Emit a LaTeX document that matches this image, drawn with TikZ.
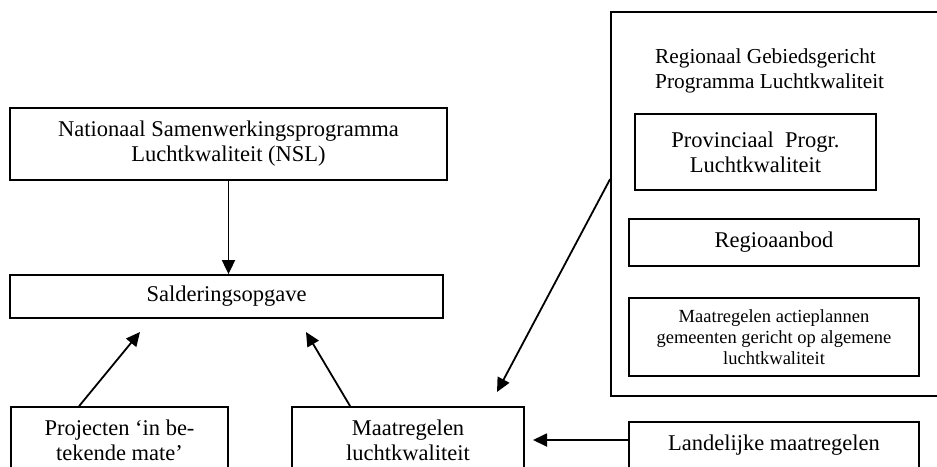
\documentclass[tikz,border=0pt]{standalone}
\usepackage{fontspec}
\setmainfont{Liberation Serif}
\usetikzlibrary{arrows.meta}
\begin{document}
\begin{tikzpicture}[x=1pt,y=-1pt,
  box/.style={draw,line width=1.8pt,inner sep=0pt,align=center,font=\fontsize{22.5pt}{25pt}\selectfont},
  smallbox/.style={box,font=\fontsize{18.5pt}{21pt}\selectfont},
  conn/.style={line width=1.8pt,-{Triangle[length=14pt,width=13pt]}}]
\useasboundingbox (0,0) rectangle (937,466);
\clip (0,0) rectangle (937,466);
\fill[white] (0,0) rectangle (937,466);
% left column
\node[box,minimum width=437pt,minimum height=72pt] (nsl) at (228.5,144) {Nationaal Samenwerkingsprogramma\\Luchtkwaliteit (NSL)};
\node[box,minimum width=433pt,minimum height=43pt] (sald) at (226.5,296.5) {Salderingsopgave};
\node[box,minimum width=217pt,minimum height=66pt] (proj) at (119.5,440) {Projecten ‘in be-\\tekende mate’};
\node[box,minimum width=232pt,minimum height=66pt] (maat) at (408,440) {Maatregelen\\luchtkwaliteit};
% right column
\node[box,minimum width=339pt,minimum height=384pt] (big) at (780.5,204) {};
\node[anchor=west,inner sep=0pt,align=left,font=\fontsize{21.3pt}{25pt}\selectfont] (rgp) at (655,70.5) {Regionaal Gebiedsgericht\\Programma Luchtkwaliteit};
\node[box,minimum width=241pt,minimum height=76pt] (prov) at (755.5,152) {Provinciaal~ Progr.\\Luchtkwaliteit};
\node[box,minimum width=290pt,minimum height=47pt] (regio) at (774,242.5) {Regioaanbod};
\node[smallbox,minimum width=290pt,minimum height=78pt] (actie) at (774,337) {Maatregelen actieplannen\\gemeenten gericht op algemene\\luchtkwaliteit};
\node[box,minimum width=290pt,minimum height=46pt] (land) at (774,445) {Landelijke maatregelen};
% connectors
\coordinate (ptip) at (140,332);
\coordinate (mtip) at (306,332);
\coordinate (btip) at (497,392);
\coordinate (ltip) at (533,440);
\draw[conn] (nsl.south) -- (nsl.south |- sald.north);
\draw[conn] ([xshift=69pt]proj.north west) -- (ptip);
\draw[conn] ([xshift=59pt]maat.north west) -- (mtip);
\draw[conn] ([yshift=-168pt]big.north west) -- (btip);
\draw[conn] ([yshift=5pt]land.west) -- (ltip);
\end{tikzpicture}
\end{document}
